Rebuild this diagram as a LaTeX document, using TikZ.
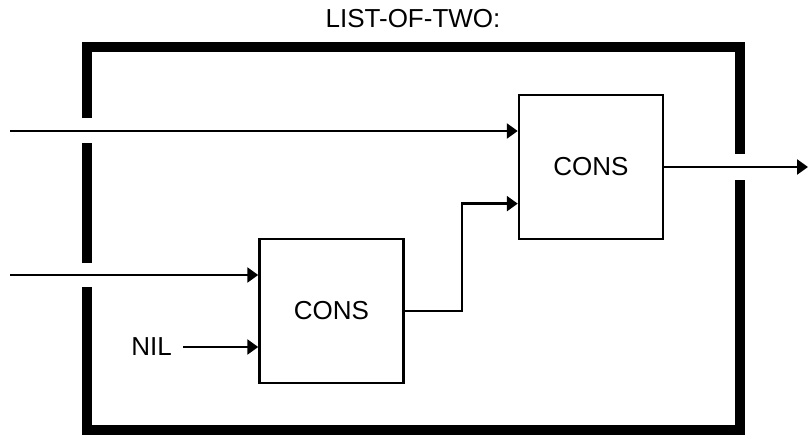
\documentclass[tikz,border=0pt]{standalone}
\usepackage{fontspec}
\setmainfont{Liberation Sans}
\usetikzlibrary{arrows.meta,calc}

\tikzset{
  consbox/.style={draw,line width=2.5pt,minimum width=144pt,minimum height=144pt,inner sep=0pt},
  wire/.style={line width=2.5pt},
  feed/.style={wire,-{Triangle[length=11pt,width=15pt]}},
  frame/.style={line width=10.5pt},
}

\begin{document}
\begin{tikzpicture}[x=1pt,y=-1pt,font=\fontsize{26}{30}\selectfont]
\useasboundingbox (0,0) rectangle (809,436);

% Frame
\draw[frame] (87,118) -- (87,47) -- (740,47) -- (740,154);
\draw[frame] (740,180) -- (740,430) -- (87,430) -- (87,287);
\draw[frame] (87,263) -- (87,143);

% Boxes
\node[consbox] (lower) at (331.5,311) {CONS};
\node[consbox] (upper) at (591,167) {CONS};

% Ends
\coordinate (first) at (10,131);
\coordinate (second) at (10,275);
\coordinate (bend) at (462,311);
\coordinate (result) at (808,167);
\coordinate (tail) at ($(upper.north west)!0.75!(upper.south west)$);

% Arrows
\draw[feed] (first) -- (first -| upper.west);
\draw[feed] (second) -- (second -| lower.west);
\node[inner sep=0pt,anchor=east] (nil) at (172,347) {NIL};
\draw[feed] ($(nil.east)+(11,0)$) -- (nil -| lower.west);
\draw[feed] (lower.east) -- (bend) |- (tail);
\draw[feed] (upper.east) -- (result);

% Labels
\node (title) at (413,19) {LIST-OF-TWO:};

\end{tikzpicture}
\end{document}
